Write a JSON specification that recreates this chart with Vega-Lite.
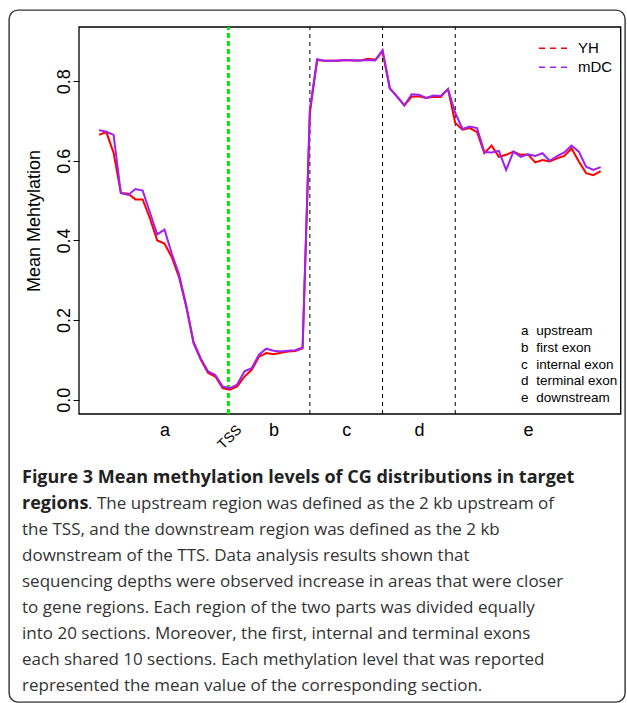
{
  "$schema": "https://vega.github.io/schema/vega-lite/v6.json",
  "width": 616,
  "height": 692,
  "autosize": {"type": "none"},
  "padding": {"left": 9, "top": 10, "right": 2, "bottom": 1},
  "background": "white",
  "config": {
    "view": {"stroke": "#333333", "strokeWidth": 1.4, "cornerRadius": 9},
    "font": "Liberation Sans",
    "axis": {"labelFont": "Liberation Sans", "titleFont": "Liberation Sans", "labelColor": "black", "titleColor": "black", "grid": false}
  },
  "layer": [
    {
      "layer": [
        {
          "layer": [
            {
              "data": {"values": [{}]},
              "mark": {"type": "rect", "filled": false, "color": "black", "strokeWidth": 1.3},
              "encoding": {
                "x": {"datum": -1.76, "type": "quantitative",
                  "scale": {"domain": [-1.76, 72.76], "range": [70, 611.7], "nice": false, "zero": false},
                  "axis": {"orient": "bottom", "offset": -288, "values": [10, 25, 35, 45, 60],
                    "labelExpr": "datum.value==10?'a':datum.value==25?'b':datum.value==35?'c':datum.value==45?'d':'e'",
                    "domain": false, "ticks": false, "tickSize": 0, "labelPadding": 7.5, "labelFontSize": 18,
                    "labelBaseline": "top", "labelAngle": 0, "title": null, "labelFlush": false, "labelOverlap": false}},
                "x2": {"datum": 72.76},
                "y": {"datum": -0.036, "type": "quantitative",
                  "scale": {"domain": [-0.036, 0.936], "range": [404, 17], "nice": false, "zero": false},
                  "axis": {"orient": "left", "offset": -70, "values": [0, 0.2, 0.4, 0.6, 0.8], "format": ".1f",
                    "domain": false, "ticks": true, "tickSize": 6, "tickColor": "black", "tickWidth": 1,
                    "labelAngle": -90, "labelAlign": "center", "labelBaseline": "alphabetic", "labelPadding": 4,
                    "labelFontSize": 18, "title": "Mean Mehtylation", "titleFontSize": 18, "titleFontWeight": "normal",
                    "titlePadding": 12, "labelFlush": false, "labelOverlap": false}},
                "y2": {"datum": 0.936}
              }
            },
            {
              "data": {"values": [{"pos": 30}, {"pos": 40}, {"pos": 50}]},
              "mark": {"type": "rule", "color": "black", "strokeWidth": 1, "strokeDash": [4, 4]},
              "encoding": {
                "x": {"field": "pos", "type": "quantitative"},
                "y": {"datum": -0.036, "type": "quantitative"},
                "y2": {"datum": 0.936}
              }
            },
            {
              "data": {"values": [{"pos": 18.8}]},
              "mark": {"type": "rule", "color": "#00ee00", "strokeWidth": 3, "strokeDash": [5, 3]},
              "encoding": {
                "x": {"field": "pos", "type": "quantitative"},
                "y": {"datum": -0.036, "type": "quantitative"},
                "y2": {"datum": 0.936}
              }
            },
            {
              "data": {"values": [
                {"s":"YH","i":1,"v":0.665},{"s":"YH","i":2,"v":0.672},{"s":"YH","i":3,"v":0.620},{"s":"YH","i":4,"v":0.519},{"s":"YH","i":5,"v":0.517},
                {"s":"YH","i":6,"v":0.503},{"s":"YH","i":7,"v":0.503},{"s":"YH","i":8,"v":0.455},{"s":"YH","i":9,"v":0.400},{"s":"YH","i":10,"v":0.392},
                {"s":"YH","i":11,"v":0.358},{"s":"YH","i":12,"v":0.308},{"s":"YH","i":13,"v":0.233},{"s":"YH","i":14,"v":0.142},{"s":"YH","i":15,"v":0.100},
                {"s":"YH","i":16,"v":0.067},{"s":"YH","i":17,"v":0.058},{"s":"YH","i":18,"v":0.029},{"s":"YH","i":19,"v":0.025},{"s":"YH","i":20,"v":0.033},
                {"s":"YH","i":21,"v":0.058},{"s":"YH","i":22,"v":0.075},{"s":"YH","i":23,"v":0.108},{"s":"YH","i":24,"v":0.117},{"s":"YH","i":25,"v":0.114},
                {"s":"YH","i":26,"v":0.118},{"s":"YH","i":27,"v":0.121},{"s":"YH","i":28,"v":0.122},{"s":"YH","i":29,"v":0.129},{"s":"YH","i":30,"v":0.720},
                {"s":"YH","i":31,"v":0.853},{"s":"YH","i":32,"v":0.851},{"s":"YH","i":33,"v":0.851},{"s":"YH","i":34,"v":0.851},{"s":"YH","i":35,"v":0.853},
                {"s":"YH","i":36,"v":0.852},{"s":"YH","i":37,"v":0.852},{"s":"YH","i":38,"v":0.856},{"s":"YH","i":39,"v":0.854},{"s":"YH","i":40,"v":0.874},
                {"s":"YH","i":41,"v":0.782},{"s":"YH","i":42,"v":0.761},{"s":"YH","i":43,"v":0.739},{"s":"YH","i":44,"v":0.761},{"s":"YH","i":45,"v":0.762},
                {"s":"YH","i":46,"v":0.758},{"s":"YH","i":47,"v":0.761},{"s":"YH","i":48,"v":0.760},{"s":"YH","i":49,"v":0.780},{"s":"YH","i":50,"v":0.695},
                {"s":"YH","i":51,"v":0.678},{"s":"YH","i":52,"v":0.682},{"s":"YH","i":53,"v":0.672},{"s":"YH","i":54,"v":0.619},{"s":"YH","i":55,"v":0.638},
                {"s":"YH","i":56,"v":0.610},{"s":"YH","i":57,"v":0.615},{"s":"YH","i":58,"v":0.623},{"s":"YH","i":59,"v":0.615},{"s":"YH","i":60,"v":0.616},
                {"s":"YH","i":61,"v":0.596},{"s":"YH","i":62,"v":0.602},{"s":"YH","i":63,"v":0.598},{"s":"YH","i":64,"v":0.606},{"s":"YH","i":65,"v":0.612},
                {"s":"YH","i":66,"v":0.631},{"s":"YH","i":67,"v":0.598},{"s":"YH","i":68,"v":0.569},{"s":"YH","i":69,"v":0.564},{"s":"YH","i":70,"v":0.574},
                {"s":"mDC","i":1,"v":0.677},{"s":"mDC","i":2,"v":0.673},{"s":"mDC","i":3,"v":0.665},{"s":"mDC","i":4,"v":0.519},{"s":"mDC","i":5,"v":0.514},
                {"s":"mDC","i":6,"v":0.529},{"s":"mDC","i":7,"v":0.525},{"s":"mDC","i":8,"v":0.470},{"s":"mDC","i":9,"v":0.415},{"s":"mDC","i":10,"v":0.427},
                {"s":"mDC","i":11,"v":0.367},{"s":"mDC","i":12,"v":0.315},{"s":"mDC","i":13,"v":0.236},{"s":"mDC","i":14,"v":0.145},{"s":"mDC","i":15,"v":0.103},
                {"s":"mDC","i":16,"v":0.071},{"s":"mDC","i":17,"v":0.062},{"s":"mDC","i":18,"v":0.033},{"s":"mDC","i":19,"v":0.029},{"s":"mDC","i":20,"v":0.038},
                {"s":"mDC","i":21,"v":0.071},{"s":"mDC","i":22,"v":0.079},{"s":"mDC","i":23,"v":0.113},{"s":"mDC","i":24,"v":0.128},{"s":"mDC","i":25,"v":0.123},
                {"s":"mDC","i":26,"v":0.121},{"s":"mDC","i":27,"v":0.123},{"s":"mDC","i":28,"v":0.124},{"s":"mDC","i":29,"v":0.131},{"s":"mDC","i":30,"v":0.730},
                {"s":"mDC","i":31,"v":0.855},{"s":"mDC","i":32,"v":0.851},{"s":"mDC","i":33,"v":0.851},{"s":"mDC","i":34,"v":0.852},{"s":"mDC","i":35,"v":0.853},
                {"s":"mDC","i":36,"v":0.852},{"s":"mDC","i":37,"v":0.852},{"s":"mDC","i":38,"v":0.853},{"s":"mDC","i":39,"v":0.852},{"s":"mDC","i":40,"v":0.878},
                {"s":"mDC","i":41,"v":0.782},{"s":"mDC","i":42,"v":0.761},{"s":"mDC","i":43,"v":0.739},{"s":"mDC","i":44,"v":0.767},{"s":"mDC","i":45,"v":0.766},
                {"s":"mDC","i":46,"v":0.758},{"s":"mDC","i":47,"v":0.764},{"s":"mDC","i":48,"v":0.763},{"s":"mDC","i":49,"v":0.780},{"s":"mDC","i":50,"v":0.720},
                {"s":"mDC","i":51,"v":0.680},{"s":"mDC","i":52,"v":0.686},{"s":"mDC","i":53,"v":0.682},{"s":"mDC","i":54,"v":0.622},{"s":"mDC","i":55,"v":0.621},
                {"s":"mDC","i":56,"v":0.625},{"s":"mDC","i":57,"v":0.577},{"s":"mDC","i":58,"v":0.623},{"s":"mDC","i":59,"v":0.610},{"s":"mDC","i":60,"v":0.616},
                {"s":"mDC","i":61,"v":0.612},{"s":"mDC","i":62,"v":0.619},{"s":"mDC","i":63,"v":0.600},{"s":"mDC","i":64,"v":0.612},{"s":"mDC","i":65,"v":0.621},
                {"s":"mDC","i":66,"v":0.638},{"s":"mDC","i":67,"v":0.623},{"s":"mDC","i":68,"v":0.585},{"s":"mDC","i":69,"v":0.577},{"s":"mDC","i":70,"v":0.584}
              ]},
              "mark": {"type": "line", "strokeWidth": 2},
              "encoding": {
                "x": {"field": "i", "type": "quantitative"},
                "y": {"field": "v", "type": "quantitative"},
                "color": {"field": "s", "type": "nominal",
                  "scale": {"domain": ["YH", "mDC"], "range": ["#FF0000", "#A020F0"]},
                  "legend": {"orient": "none", "legendX": 529, "legendY": 29, "title": null,
                    "symbolType": "stroke", "symbolSize": 841, "symbolDash": [6, 5], "symbolStrokeWidth": 1.5,
                    "labelFont": "Liberation Sans", "labelFontSize": 15, "labelColor": "black", "labelOffset": 9,
                    "clipHeight": 18.5, "rowPadding": 0, "padding": 0}}
              }
            },
            {
              "data": {"values": [{"t": "TSS"}]},
              "mark": {"type": "text", "angle": -45, "align": "center", "baseline": "middle", "fontSize": 14, "color": "black", "font": "Liberation Sans"},
              "encoding": {
                "x": {"datum": 19.0, "type": "quantitative"},
                "y": {"datum": -0.095, "type": "quantitative"},
                "text": {"field": "t"}
              }
            }
          ]
        },
        {
          "data": {"values": [
            {"key": "a", "desc": "upstream"},
            {"key": "b", "desc": "first exon"},
            {"key": "c", "desc": "internal exon"},
            {"key": "d", "desc": "terminal exon"},
            {"key": "e", "desc": "downstream"}
          ]},
          "encoding": {
            "y": {"field": "key", "type": "ordinal", "axis": null,
              "scale": {"type": "point", "domain": ["a", "b", "c", "d", "e"], "range": [321.2, 387.8], "padding": 0}}
          },
          "layer": [
            {
              "mark": {"type": "text", "align": "left", "baseline": "middle", "fontSize": 13.5, "color": "black", "font": "Liberation Sans"},
              "encoding": {"x": {"datum": 59.05, "type": "quantitative"}, "text": {"field": "key"}}
            },
            {
              "mark": {"type": "text", "align": "left", "baseline": "middle", "fontSize": 13.5, "color": "black", "font": "Liberation Sans"},
              "encoding": {"x": {"datum": 61.15, "type": "quantitative"}, "text": {"field": "desc"}}
            }
          ]
        }
      ],
      "resolve": {"scale": {"y": "independent"}}
    },
    {
      "encoding": {
        "x": {"datum": 0, "type": "quantitative", "axis": null,
          "scale": {"domain": [0, 1], "range": [13, 604], "nice": false, "zero": false}},
        "y": {"field": "line", "type": "quantitative", "axis": null,
          "scale": {"domain": [1, 9], "range": [473, 681], "nice": false, "zero": false}},
        "text": {"field": "text"}
      },
      "layer": [
        {
          "data": {"values": [
            {"line": 1, "text": "Figure 3 Mean methylation levels of CG distributions in target"},
            {"line": 2, "text": "regions"}
          ]},
          "mark": {"type": "text", "align": "left", "baseline": "alphabetic", "font": "Open Sans", "fontSize": 18, "fontWeight": "bold", "color": "#222222"}
        },
        {
          "data": {"values": [
            {"line": 2, "text": ". The upstream region was defined as the 2 kb upstream of"}
          ]},
          "mark": {"type": "text", "align": "left", "baseline": "alphabetic", "font": "Open Sans", "fontSize": 17, "color": "#333333", "dx": 66}
        },
        {
          "data": {"values": [
            {"line": 3, "text": "the TSS, and the downstream region was defined as the 2 kb"},
            {"line": 4, "text": "downstream of the TTS. Data analysis results shown that"},
            {"line": 5, "text": "sequencing depths were observed increase in areas that were closer"},
            {"line": 6, "text": "to gene regions. Each region of the two parts was divided equally"},
            {"line": 7, "text": "into 20 sections. Moreover, the first, internal and terminal exons"},
            {"line": 8, "text": "each shared 10 sections. Each methylation level that was reported"},
            {"line": 9, "text": "represented the mean value of the corresponding section."}
          ]},
          "mark": {"type": "text", "align": "left", "baseline": "alphabetic", "font": "Open Sans", "fontSize": 17, "color": "#333333"}
        }
      ]
    }
  ],
  "resolve": {"scale": {"x": "independent", "y": "independent"}}
}
